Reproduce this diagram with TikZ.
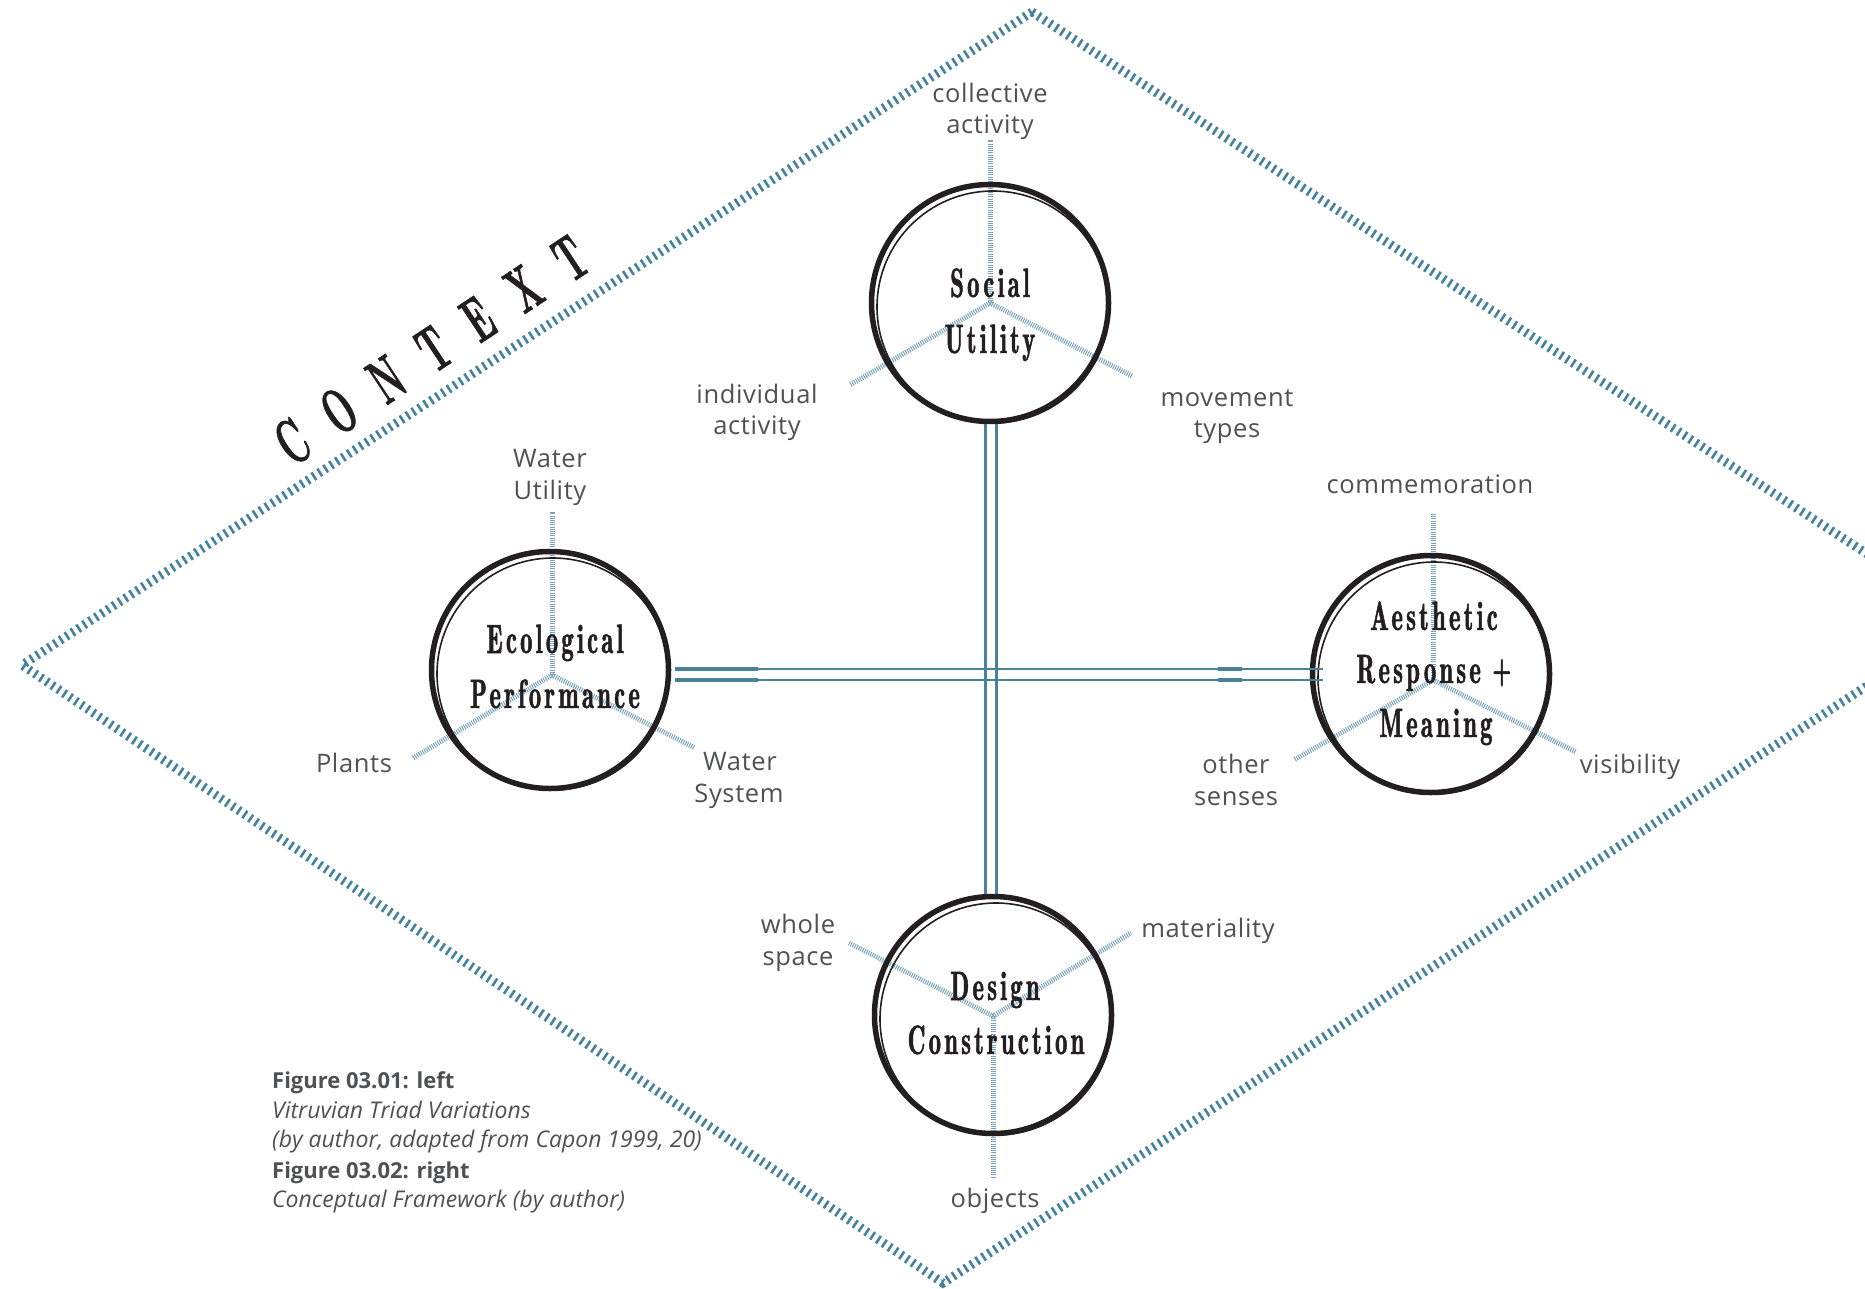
\documentclass[tikz,border=0pt]{standalone}
\usepackage{fontspec}
\setmainfont{Open Sans}
\newfontfamily\labelfont[LetterSpace=2.5]{Open Sans}
\newfontfamily\capfont{Open Sans}
\newfontfamily\condfont[FakeStretch=0.6,LetterSpace=8,FakeBold=1.2]{lmromandemi10-regular.otf}
\newfontfamily\ctxfont[FakeStretch=0.5,FakeBold=1,LetterSpace=45]{lmroman10-bold.otf}
\usetikzlibrary{calc}

\definecolor{labelgray}{HTML}{505153}
\definecolor{spokeblue}{HTML}{77A2B8}
\definecolor{linkblue}{HTML}{4A8399}
\definecolor{hatchblue}{HTML}{45829C}
\definecolor{ringblack}{HTML}{231F20}

\begin{document}
\begin{tikzpicture}[x=1pt,y=-1pt,
  hatchline/.style={draw=hatchblue, line width=9pt, dash pattern=on 2.6pt off 4.4pt},
  spoke/.style={draw=spokeblue, line width=5pt, dash pattern=on 1pt off 1.2pt},
  link/.style={draw=linkblue, line width=2.6pt},
  linkheavy/.style={draw=linkblue, line width=4pt},
  ring/.style={circle, draw=ringblack, line width=5.5pt, minimum size=237pt, inner sep=0pt},
  ringthin/.style={draw=ringblack, line width=1.6pt},
  lbl/.style={font=\labelfont\fontsize{25.5}{31}\selectfont, text=labelgray, anchor=base, inner sep=0pt},
  ttl/.style={font=\condfont\fontsize{41}{50}\selectfont, text=ringblack, anchor=base, inner sep=0pt},
  ctx/.style={font=\ctxfont\fontsize{64}{64}\selectfont, text=ringblack, inner sep=0pt, rotate=33.5},
  capbold/.style={font=\capfont\bfseries\fontsize{22}{30}\selectfont, text=labelgray, anchor=base west, inner sep=0pt},
  capit/.style={font=\capfont\itshape\fontsize{23}{30}\selectfont, text=labelgray, anchor=base west, inner sep=0pt}
]
\fill[white] (0,0) rectangle (1865,1289);
\useasboundingbox (0,0) rectangle (1865,1289);

% context frame
\begin{scope}
  \clip (0,0) rectangle (1865,1289);
  \draw[hatchline] (1032,12) -- (1969,620) -- (943,1283) -- (22,665) -- cycle;
\end{scope}

% hubs of the three-way spokes
\coordinate (soch) at (990,303);
\coordinate (ecoh) at (552,675);
\coordinate (aesh) at (1433,680);
\coordinate (desh) at (993,1016);

\draw[spoke] (soch) -- ++(0,-163);
\draw[spoke] (soch) -- ++(-140,82);
\draw[spoke] (soch) -- ++(142,73);
\draw[spoke] (ecoh) -- ++(0,-163);
\draw[spoke] (ecoh) -- ++(-139,83);
\draw[spoke] (ecoh) -- ++(143,73);
\draw[spoke] (aesh) -- ++(0,-166);
\draw[spoke] (aesh) -- ++(-139,80);
\draw[spoke] (aesh) -- ++(143,72);
\draw[spoke] (desh) -- ++(-144,-73);
\draw[spoke] (desh) -- ++(138,-83);
\draw[spoke] (desh) -- ++(0,162);

% the four domains
\node[ring] (soc) at (990,303) {};
\node[ring] (eco) at (550,670) {};
\node[ring] (aes) at (1431,674) {};
\node[ring] (des) at (993,1015) {};
\foreach \n in {soc,eco,aes,des}
  \draw[ringthin] ($(\n.center)+(3,4)$) circle[radius=116];

% double connectors
\draw[link] ([shift={(-4.5,0)}]soc.south) -- ([shift={(-7.5,0)}]des.north);
\draw[link] ([shift={(6.5,0)}]soc.south) -- ([shift={(3.5,0)}]des.north);
\draw[link] ([shift={(4,-1)}]eco.east) -- ([shift={(13,-5)}]aes.west);
\draw[link] ([shift={(4,10)}]eco.east) -- ([shift={(13,6)}]aes.west);
\draw[linkheavy] ([shift={(4,-1)}]eco.east) -- ++(83,0);
\draw[linkheavy] ([shift={(4,10)}]eco.east) -- ++(83,0);
\draw[linkheavy] ([shift={(-92,-5)}]aes.west) -- ++(24,0);
\draw[linkheavy] ([shift={(-92,6)}]aes.west) -- ++(24,0);

% titles
\node[ttl] (socA) at (990,297) {Social};
\node[ttl] (socB) at (990,353) {Utility};
\node[ttl] (ecoA) at (555,653) {Ecological};
\node[ttl] (ecoB) at (555,708) {Performance};
\node[ttl] (aesA) at (1434,630) {Aesthetic};
\node[ttl] (aesB) at (1434,683) {Response +};
\node[ttl] (aesC) at (1436,737) {Meaning};
\node[ttl] (desA) at (995,1000) {Design};
\node[ttl] (desB) at (996,1054) {Construction};

% spoke labels
\node[lbl] (l1a) at (990,103) {collective};
\node[lbl] (l1b) at (990,134) {activity};
\node[lbl] (l2a) at (757,403) {individual};
\node[lbl] (l2b) at (757,434) {activity};
\node[lbl] (l3a) at (1227,406) {movement};
\node[lbl] (l3b) at (1227,437) {types};
\node[lbl] (l4a) at (550,467) {Water};
\node[lbl] (l4b) at (550,499) {Utility};
\node[lbl] (l5) at (354,772) {Plants};
\node[lbl] (l6a) at (740,770) {Water};
\node[lbl] (l6b) at (739,802) {System};
\node[lbl] (l7) at (1430,493) {commemoration};
\node[lbl] (l8a) at (1236,773) {other};
\node[lbl] (l8b) at (1236,805) {senses};
\node[lbl] (l9) at (1630,773) {visibility};
\node[lbl] (l10a) at (798,933) {whole};
\node[lbl] (l10b) at (798,965) {space};
\node[lbl] (l11) at (1208,937) {materiality};
\node[lbl] (l12) at (995,1207) {objects};

% frame title
\node[ctx] (ctxt) at (431,350) {CONTEXT};

% caption
\node[capbold] (cap1) at (272,1088) {Figure 03.01: left};
\node[capit] (cap2) at (272,1118) {Vitruvian Triad Variations};
\node[capit] (cap3) at (272,1147) {(by author, adapted from Capon 1999, 20)};
\node[capbold] (cap4) at (272,1178) {Figure 03.02: right};
\node[capit] (cap5) at (272,1207) {Conceptual Framework (by author)};
\end{tikzpicture}
\end{document}
